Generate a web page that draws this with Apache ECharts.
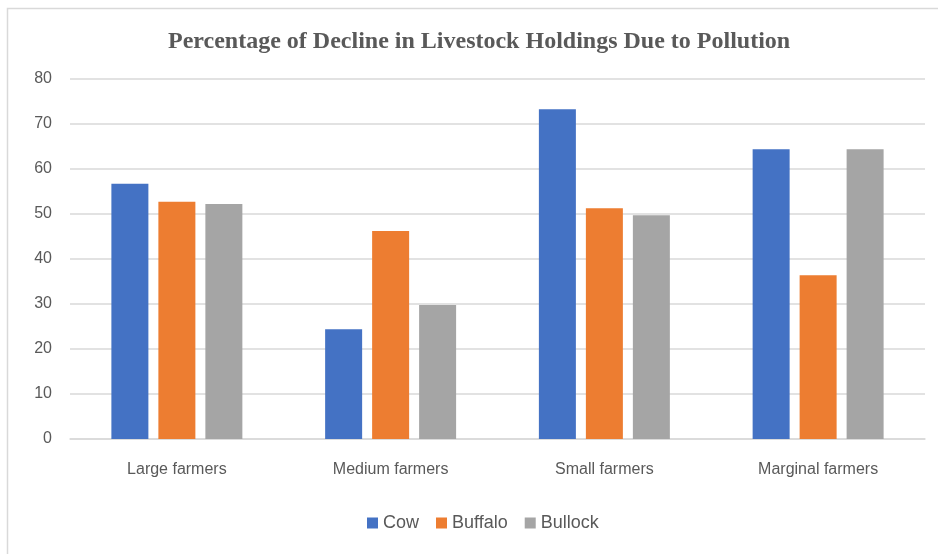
<!DOCTYPE html>
<html>
<head>
<meta charset="utf-8">
<script src="https://cdn.jsdelivr.net/npm/echarts@6/dist/echarts.min.js"></script>
<style>
  html, body { margin: 0; padding: 0; background: #fff; }
  #chart { width: 938px; height: 554px; }
</style>
</head>
<body>
<div id="chart"></div>
<script>
// Farmer groups along the x axis
const categories = ['Large farmers', 'Medium farmers', 'Small farmers', 'Marginal farmers'];
// Percentage decline per livestock type
const cowValues = [56.7, 24.4, 73.3, 64.4];
const buffaloValues = [52.7, 46.2, 51.3, 36.4];
const bullockValues = [52.2, 29.8, 49.7, 64.4];
const seriesNames = ['Cow', 'Buffalo', 'Bullock'];

const labelFont = '"Liberation Sans", Arial, sans-serif';
const textGray = '#595959';
const lineGray = '#d9d9d9';

const chart = echarts.init(document.getElementById('chart'), null, { renderer: 'canvas' });

chart.setOption({
  animation: false,
  backgroundColor: '#ffffff',
  color: ['#4472c4', '#ed7d31', '#a5a5a5'],
  graphic: [{
    type: 'rect',
    shape: { x: 7.5, y: 8.5, width: 940, height: 560 },
    style: { fill: 'none', stroke: lineGray, lineWidth: 1.5 },
    silent: true
  }],
  title: {
    text: 'Percentage of Decline in Livestock Holdings Due to Pollution',
    left: 163,
    top: 25,
    textStyle: {
      fontFamily: '"Liberation Serif", "Times New Roman", serif',
      fontWeight: 'bold',
      fontSize: 24,
      color: textGray
    }
  },
  legend: {
    data: seriesNames,
    bottom: 17,
    left: 362,
    itemWidth: 11,
    itemHeight: 11,
    itemGap: 17,
    icon: 'rect',
    textStyle: { fontFamily: labelFont, fontSize: 18, color: textGray, padding: [0, 0, 0, 0] }
  },
  grid: { left: 70, right: 13, top: 79, bottom: 115, containLabel: false },
  xAxis: {
    type: 'category',
    data: categories,
    axisLine: { lineStyle: { color: lineGray, width: 1.5 } },
    axisTick: { show: false },
    axisLabel: { fontFamily: labelFont, fontSize: 16, color: textGray, margin: 23 }
  },
  yAxis: {
    type: 'value',
    min: 0,
    max: 80,
    interval: 10,
    axisLine: { show: false },
    axisTick: { show: false },
    splitLine: { lineStyle: { color: lineGray, width: 1.5 } },
    axisLabel: { fontFamily: labelFont, fontSize: 16, color: textGray, margin: 18 }
  },
  series: [
    { name: seriesNames[0], type: 'bar', data: cowValues, barWidth: 37, barGap: '27%' },
    { name: seriesNames[1], type: 'bar', data: buffaloValues, barWidth: 37, barGap: '27%' },
    { name: seriesNames[2], type: 'bar', data: bullockValues, barWidth: 37, barGap: '27%' }
  ]
});
</script>
</body>
</html>
